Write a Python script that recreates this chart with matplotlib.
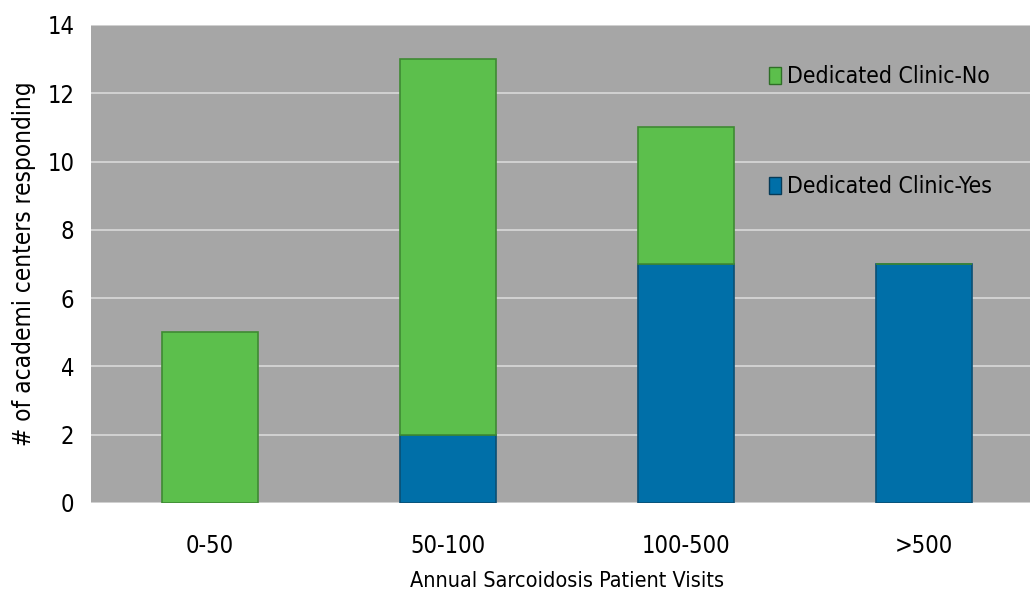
import matplotlib.pyplot as plt
from matplotlib.patches import Patch

plt.rcParams['font.family'] = ['DejaVu Sans']
plt.rcParams['font.stretch'] = 'condensed'

categories = ["0-50", "50-100", "100-500", ">500"]
clinic_yes = [0, 2, 7, 7]
clinic_no = [5, 11, 4, 0]

green = "#5cbf4c"
blue = "#006fa8"

fig = plt.figure(figsize=(10.3, 5.9), dpi=100)
ax = fig.add_axes([0.0883, 0.1475, 0.9243, 0.8102])
ax.set_facecolor("#a6a6a6")

x = list(range(len(categories)))
ax.bar(x, clinic_yes, width=0.4, color=blue, edgecolor="#0a4f74", linewidth=1.2, zorder=3)
ax.bar(x, clinic_no, width=0.4, bottom=clinic_yes, color=green, edgecolor="#3f8a33", linewidth=1.2, zorder=3)

ax.set_xlim(-0.5, 3.5)
ax.set_ylim(0, 14)
ax.set_yticks(range(0, 15, 2))
ax.set_xticks(x)
ax.set_xticklabels(categories)
ax.yaxis.grid(True, color="#d9d9d9", linewidth=1.2, zorder=1)
ax.tick_params(axis="both", length=0, labelsize=17)
ax.tick_params(axis="x", pad=22)
ax.tick_params(axis="y", pad=12)
for s in ax.spines.values():
    s.set_visible(False)

ax.set_xlabel("Annual Sarcoidosis Patient Visits", fontsize=15.5, labelpad=10)
ax.set_ylabel("# of academi centers responding", fontsize=17.5, labelpad=8)

handles = [Patch(facecolor=green, edgecolor="#2f6e27"), Patch(facecolor=blue, edgecolor="#063a57")]
leg = ax.legend(handles, ["Dedicated Clinic-No", "Dedicated Clinic-Yes"],
                loc="upper left", bbox_to_anchor=(0.703, 0.935), frameon=False,
                fontsize=16.5, handlelength=0.5, handleheight=0.75, handletextpad=0.25,
                labelspacing=3.8, borderaxespad=0)

fig.savefig("out.png", dpi=100)
